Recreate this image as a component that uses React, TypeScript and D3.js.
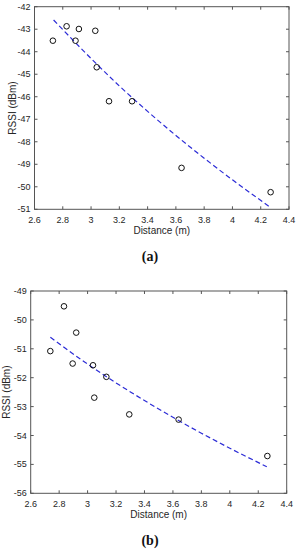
import React, { useEffect, useRef } from 'react';
import * as d3 from 'd3';

// Panel (a)
const distA = [2.73, 2.827, 2.89, 2.914, 3.03, 3.04, 3.127, 3.29, 3.64, 4.27];
const rssiA = [-43.51, -42.87, -43.51, -42.99, -43.07, -44.69, -46.2, -46.2, -49.16, -50.24];
const fitDistA = [2.735, 3.0, 3.2, 3.4, 3.6, 3.8, 4.0, 4.27];
const fitRssiA = [-42.59, -44.3, -45.52, -46.65, -47.72, -48.73, -49.69, -50.92];
const yTicksA = [-51, -50, -49, -48, -47, -46, -45, -44, -43, -42];

// Panel (b)
const distB = [2.738, 2.834, 2.92, 2.895, 3.038, 3.132, 3.047, 3.293, 3.64, 4.264];
const rssiB = [-51.08, -49.53, -50.44, -51.51, -51.57, -51.97, -52.69, -53.27, -53.45, -54.71];
const fitDistB = [2.738, 3.0, 3.2, 3.4, 3.6, 3.8, 4.0, 4.26];
const fitRssiB = [-50.6, -51.53, -52.18, -52.79, -53.37, -53.92, -54.44, -55.08];
const yTicksB = [-56, -55, -54, -53, -52, -51, -50, -49];

const xTicks = [2.6, 2.8, 3, 3.2, 3.4, 3.6, 3.8, 4, 4.2, 4.4];

interface PanelSpec {
  dist: number[];
  rssi: number[];
  fitDist: number[];
  fitRssi: number[];
  yTicks: number[];
  box: { left: number; right: number; top: number; bottom: number };
  yLabelX: number;
  caption: string;
}

const panels: PanelSpec[] = [
  {
    dist: distA, rssi: rssiA, fitDist: fitDistA, fitRssi: fitRssiA, yTicks: yTicksA,
    box: { left: 34.5, right: 289, top: 6.7, bottom: 209.3 },
    yLabelX: 13, caption: '(a)',
  },
  {
    dist: distB, rssi: rssiB, fitDist: fitDistB, fitRssi: fitRssiB, yTicks: yTicksB,
    box: { left: 30.7, right: 286.7, top: 291, bottom: 493.3 },
    yLabelX: 7, caption: '(b)',
  },
];

const axisColor = '#555';
const textColor = '#262626';

function App() {
  const ref = useRef<SVGSVGElement>(null);

  useEffect(() => {
    if (!ref.current) return;
    const svg = d3.select(ref.current);
    svg.selectAll('*').remove();

    panels.forEach((p) => {
      const { left, right, top, bottom } = p.box;
      const x = d3.scaleLinear().domain([2.6, 4.4]).range([left, right]);
      const y = d3
        .scaleLinear()
        .domain([p.yTicks[0], p.yTicks[p.yTicks.length - 1]])
        .range([bottom, top]);
      const g = svg.append('g');

      // Box
      g.append('rect')
        .attr('x', left).attr('y', top)
        .attr('width', right - left).attr('height', bottom - top)
        .attr('fill', 'white').attr('stroke', axisColor).attr('stroke-width', 1);

      // Inward ticks on all sides
      const tl = 3;
      xTicks.forEach((t) => {
        g.append('line').attr('x1', x(t)).attr('x2', x(t)).attr('y1', bottom).attr('y2', bottom - tl)
          .attr('stroke', axisColor);
        g.append('line').attr('x1', x(t)).attr('x2', x(t)).attr('y1', top).attr('y2', top + tl)
          .attr('stroke', axisColor);
        g.append('text').attr('x', x(t)).attr('y', bottom + 14)
          .attr('text-anchor', 'middle').attr('font-size', 9).attr('fill', textColor)
          .attr('font-family', 'Liberation Sans, Arial, sans-serif')
          .text(String(t));
      });
      p.yTicks.forEach((t) => {
        g.append('line').attr('x1', left).attr('x2', left + tl).attr('y1', y(t)).attr('y2', y(t))
          .attr('stroke', axisColor);
        g.append('line').attr('x1', right).attr('x2', right - tl).attr('y1', y(t)).attr('y2', y(t))
          .attr('stroke', axisColor);
        g.append('text').attr('x', left - 4).attr('y', y(t) + 3)
          .attr('text-anchor', 'end').attr('font-size', 9).attr('fill', textColor)
          .attr('font-family', 'Liberation Sans, Arial, sans-serif')
          .text(String(t));
      });

      // Fit curve
      const line = d3.line<number>()
        .x((d) => x(d))
        .y((_, i) => y(p.fitRssi[i]))
        .curve(d3.curveMonotoneX);
      g.append('path')
        .attr('d', line(p.fitDist))
        .attr('fill', 'none').attr('stroke', '#2b2bd6').attr('stroke-width', 1.2)
        .attr('stroke-dasharray', '5,3');

      // Measured points
      g.selectAll('circle.pt')
        .data(p.dist)
        .enter()
        .append('circle')
        .attr('class', 'pt')
        .attr('cx', (d) => x(d))
        .attr('cy', (_, i) => y(p.rssi[i]))
        .attr('r', 2.8)
        .attr('fill', 'none').attr('stroke', '#111').attr('stroke-width', 1);

      // Axis labels
      g.append('text')
        .attr('x', (left + right) / 2).attr('y', bottom + 25)
        .attr('text-anchor', 'middle').attr('font-size', 10).attr('fill', textColor)
        .attr('font-family', 'Liberation Sans, Arial, sans-serif')
        .text('Distance (m)');
      g.append('text')
        .attr('transform', `translate(${p.yLabelX + 3},${(top + bottom) / 2}) rotate(-90)`)
        .attr('text-anchor', 'middle').attr('font-size', 10).attr('fill', textColor)
        .attr('font-family', 'Liberation Sans, Arial, sans-serif')
        .text('RSSI (dBm)');

      // Caption
      g.append('text')
        .attr('x', 150).attr('y', bottom + 52)
        .attr('text-anchor', 'middle').attr('font-size', 14).attr('font-weight', 'bold')
        .attr('fill', '#111')
        .attr('font-family', 'Liberation Serif, DejaVu Serif, serif')
        .text(p.caption);
    });
  }, []);

  return (
    <svg
      ref={ref}
      width={298}
      height={550}
      style={{ position: 'absolute', left: 0, top: 0, background: 'white' }}
    />
  );
}

export default App;
